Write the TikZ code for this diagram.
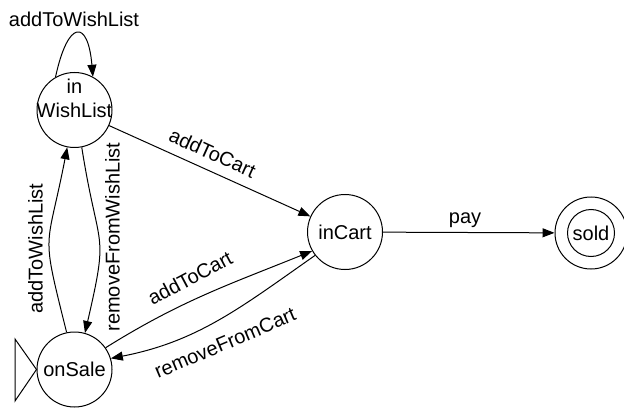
\documentclass[tikz,border=0pt]{standalone}
\usepackage{fontspec}
\setmainfont{Liberation Sans}
\usetikzlibrary{arrows.meta}
\begin{document}
\begin{tikzpicture}[x=0.5pt,y=0.5pt,
  line width=0.5pt,
  state/.style={circle,draw,minimum size=37.5pt,inner sep=0pt,font=\fontsize{10}{12}\selectfont},
  lbl/.style={inner sep=0pt,font=\fontsize{10}{12}\selectfont},
  trans/.style={-{Triangle[length=6pt,width=4.5pt]}},
]
\useasboundingbox (0,0) rectangle (624,407);

% states
\node[state, label={[lbl,align=center,yshift=6pt]center:in\\WishList}] (wl) at (74.5,297) {};
\node[state] (os) at (74.5,37.5) {onSale};
\node[state] (ic) at (345,175) {inCart};
\node[state, minimum size=36pt] (sd) at (591,174) {sold};
\draw (sd.center) circle[radius=23.5];

% initial marker
\draw (15,68) -- (os.west) -- (15,6) -- cycle;

% self loop on inWishList
\draw[trans] (wl.120) .. controls (68,388) and (88,388) .. (wl.61);
\node[lbl, anchor=base] (lloop) at (74,380) {addToWishList};

% inWishList -> inCart
\draw[trans] (wl) -- (ic);
\node[lbl, rotate=-24.3] (lcart1) at (212.5,254) {addToCart};

% onSale <-> inWishList
\draw[trans] (os.102) to[out=104,in=259,looseness=1.5] (wl.259);
\node[lbl, rotate=90] (lwish) at (35.5,158.5) {addToWishList};
\draw[trans] (wl.281) to[out=279,in=77,looseness=1.5] (os.74);
\node[lbl, rotate=90] (lremw) at (112.5,170) {removeFromWishList};

% onSale <-> inCart
\draw[trans] (os.35) to[out=32,in=202] (ic.210);
\node[lbl, rotate=28] (lcart2) at (190,129) {addToCart};
\draw[trans] (ic.218) to[out=215,in=11] (os.17);
\node[lbl, rotate=23] (lremc) at (225,64) {removeFromCart};

% inCart -> sold
\draw[trans] (ic) -- (sd);
\node[lbl, anchor=base] (lpay) at (465,184) {pay};
\end{tikzpicture}
\end{document}
